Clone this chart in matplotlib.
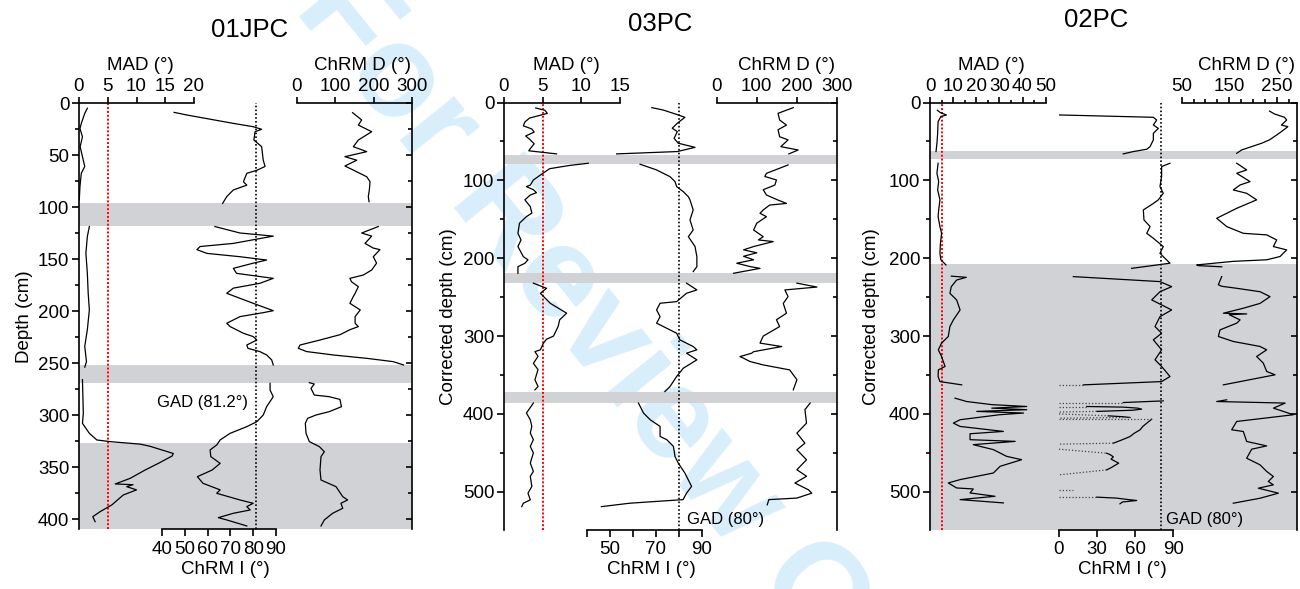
import numpy as np
import matplotlib
matplotlib.use('Agg')
import matplotlib.pyplot as plt
from matplotlib.ticker import FixedLocator, MultipleLocator

plt.rcParams['font.family'] = ['Liberation Sans', 'DejaVu Sans']
plt.rcParams['font.size'] = 13.5
nan = np.nan

# ---------------- data ----------------
titles = ['01JPC', '03PC', '02PC']
ylabels = ['Depth (cm)', 'Corrected depth (cm)', 'Corrected depth (cm)']
gad_values = [81.2, 80, 80]
gad_labels = ['GAD (81.2°)', 'GAD (80°)', 'GAD (80°)']
mad_cutoff = 5

# ---- 01JPC ----
mad01_depth = [5, 10, 19.6, 24.5, 32.5, 42, 51.6, 61, 67.6, 80, 93, nan,
               118.8, 128.4, 144.5, 163.6, 183, 199, 218, 234, 248.8, 254, nan,
               266, 298.4, 308, 317.6, 324, 325.6, 328, 330, 337, 339.4, 346.5, 352.9,
               360.9, 366.3, 367, 368.9, 372, 376.9, 386.5, 393, 397.8, 402.6]
mad01 = [1.45, 1.0, 0.4, 0.17, 0.6, 0.2, 0.6, 1.0, 0.4, 0.17, 0.05, nan,
         1.8, 1.45, 1.2, 1.45, 1.6, 1.8, 1.45, 1.0, 1.3, 1.0, nan,
         0.6, 0.75, 0.6, 1.8, 3.1, 5.4, 10.6, 12.3, 16.4, 16.2, 13.8, 11.5,
         8.9, 6.3, 9.4, 8.3, 10.0, 7.7, 5.7, 3.65, 2.4, 2.8]

inc01_depth = [9, 11.5, 19.6, 22.8, 25.3, 27.6, 35.6, 42, 55, 61, 64.7, 67.6, 75.7, 79, 83.6, 90, 96.5, nan,
               118.8, 125, 128, 135, 138, 141, 144.6, 147.8, 151, 154, 159, 163.8, 168.6, 173.4, 178, 183,
               192.6, 199.7, 201.6, 205.4, 211.8, 215, 221.4, 224.6, 227.9, 232.7, 235.9, 239, 242.3, 247, 251.9, nan,
               269.6, 276, 282.4, 292, 300, 306.4, 311.2, 317.6, 324, 328.8, 333.6, 340, 346.5, 352.9, 359.3,
               365.7, 372, 375.3, 381.7, 384.9, 388.1, 391.3, 394.5, 398.7, 400.9, 406.7]
inc01 = [45.3, 50.8, 71.3, 80, 83.7, 80.8, 80.3, 83.7, 84.4, 85.2, 81.6, 77.2, 75.7, 77.2, 71.3, 68.4, 66.6, nan,
         63.2, 74.2, 88.8, 71.3, 56.7, 55.3, 59.7, 74.2, 85.9, 80, 71.3, 72.7, 88.8, 82.9, 71.3, 68.4,
         80, 88.8, 84.4, 74.2, 68.4, 69.9, 75.7, 80, 81.6, 77.2, 77.7, 82.9, 85.9, 88.1, 88.8, nan,
         87.4, 87.4, 88.8, 85.9, 84.4, 81.6, 77.2, 69.9, 65.5, 64, 61.1, 61.4, 65.5, 62, 55.5,
         58, 65.5, 64, 74.2, 80, 77.2, 78.7, 71.3, 64.7, 68.4, 77.2]

dec01_depth = [9.3, 16.3, 21.2, 27.6, 35.6, 42, 46.8, 51.6, 55, 60.6, 64.5, 70.9, 75.7, 83.7, 90, 94.9, nan,
               118.8, 125, 128, 135, 139.5, 141, 147.8, 154, 160.6, 165.4, 168.6, 171.8, 176.6, 183, 186,
               192.6, 199, 205.4, 211.8, 215, 218, 222.8, 227.9, 232.7, 235.9, 239, 242.3, 245.5, 248.7, 251.9, nan,
               268.9, 270.2, 274.4, 280.8, 282.4, 285, 292, 296.8, 300, 303.2, 308, 317.6, 325.6, 330.4,
               335.3, 340, 352.9, 362.5, 368.9, 378.5, 381.7, 384.9, 389.7, 394.5, 400.9, 406.7]
dec01 = [145, 168.7, 160, 194.8, 160, 147, 181.8, 125, 155.8, 125, 147, 181.8, 190.5, 188.7, 186, 188, nan,
         212, 168.7, 194.8, 177.4, 199, 216.5, 199, 207.6, 194.8, 173, 138, 142, 160, 151.6, 147,
         138, 165, 151.6, 151.6, 160, 138, 112, 60, 8, 3.5, 25, 95, 181.8, 251, 278, nan,
         32.2, 45, 36.5, 45, 84, 112, 116, 84, 49.6, 27.8, 21.7, 23.5, 32.2, 58.3,
         71.3, 62.6, 60, 62.6, 101.8, 119.3, 132, 114.6, 119.3, 93, 71.3, 62.6]
bands01 = [(96.5, 118), (252, 269), (327, 420)]

# ---- 03PC ----
mad03_depth = [7, 10, 14, 20, 25, 30, 34, 38, 43, 48, 53, 58, 62, 66, nan,
               78, 80.8, 85, 93.2, 99.5, 106, 108, 112, 115.8, 118.8, 125, 133.7, 142, 146.6, 155, 168,
               176.5, 185, 198, 202, 206.5, 210.8, 219.3, nan,
               232, 238.6, 245, 249, 258, 270.6, 279, 287.7, 300, 304, 309, 317.6, 320, 326, 335, 343,
               356, 364.8, 369, nan,
               386, 398.8, 407.4, 416, 424.5, 433, 441.6, 450, 463, 473.8, 480, 493, 501.7, 510.3, 514.6, 519]
mad03 = [4.1, 5.3, 5.6, 3.3, 2.7, 2.5, 3.6, 3.9, 2.8, 3.4, 3.9, 3.5, 3.2, 6.8, nan,
         10.9, 8.5, 5.9, 4.7, 3.8, 3.4, 2.9, 3.8, 4.2, 3.4, 2.7, 3.4, 3.6, 2.9, 2.0, 1.8,
         2.2, 1.8, 2.5, 3.1, 2.7, 1.8, 1.8, nan,
         3.8, 5.5, 4.7, 5.1, 6.0, 8.1, 7.2, 7.0, 6.4, 5.5, 5.1, 4.7, 4.0, 4.4, 3.8, 4.4,
         4.0, 4.4, 4.0, nan,
         3.8, 2.9, 3.4, 3.6, 3.4, 3.8, 3.4, 3.8, 3.4, 3.8, 3.4, 3.6, 3.1, 3.4, 2.5, 2.3]

inc03_depth = [6.6, 9.7, 16, 19, 26.6, 33, 37.4, 46, 52.3, 57.6, 63, 66, nan,
               79.3, 86.6, 95.2, 101.6, 108, 114.5, 121, 125, 138, 150.8, 163.7, 172.3, 185, 198, 210.8, 217.2, nan,
               232, 240.7, 245, 255.7, 257.8, 266.4, 275, 283.4, 296.3, 304.8, 313.4, 317.6, 321.9, 330.5,
               341.2, 351.9, 364.8, 371.2, nan,
               386, 398.8, 407.4, 416, 428.8, 433, 441.6, 454.7, 463, 476, 493, 501.7, 510, 514.6, 519]
inc03 = [68.3, 73.3, 79.8, 82.7, 79.4, 77.2, 79.4, 78, 79.8, 87.1, 79.4, 53, nan,
         63.2, 70.4, 76.2, 78.4, 79.1, 82, 84.2, 84.9, 86.3, 84.9, 86.3, 84.2, 87.1, 87.9, 87.9, 86.3, nan,
         83.4, 87.9, 83.4, 79.1, 71.9, 70.4, 71.9, 70.4, 79.1, 80.5, 86.3, 87.9, 83.4, 87.9,
         82, 79.1, 76.2, 74, nan,
         62.5, 64.7, 67.6, 71.9, 71.9, 74.8, 77.7, 78.4, 79.8, 82.7, 85.6, 83.4, 81.9, 58.7, 46.4]

dec03_depth = [6.6, 13.9, 22.5, 29, 35, 44, 48, 56.7, 61, 66, nan,
               80.2, 91, 95, 99.5, 106, 112, 118.8, 125.3, 129.6, 131.7, 138, 142.3, 146.6, 155, 163.7,
               172.3, 176.5, 178.6, 185, 189.2, 193, 197.5, 202, 206.4, 210.8, 213, 219.3, nan,
               232, 237, 240.7, 249.3, 258, 270.6, 279, 287.7, 300, 309, 313.4, 320, 322, 326.3, 328.4,
               332.6, 337, 343.4, 356, 369, nan,
               386, 394.5, 411.8, 424.6, 437.5, 446, 458.8, 471.6, 480, 488.7, 497.4, 501.7, 508, 510, 516.7]
dec03 = [191, 153, 157, 174, 153, 157, 178, 160, 203, 180, nan,
         178, 124, 120, 149, 145, 116, 124, 153, 174, 132, 116, 108, 124, 100, 92,
         116, 104, 141, 92, 67, 100, 67, 92, 50, 84, 108, 42, nan,
         200, 250, 170, 178, 166, 174, 149, 157, 116, 108, 162, 92, 87, 58, 67,
         83, 116, 182, 200, 191, nan,
         233, 220, 224, 200, 220, 200, 224, 200, 224, 195, 229, 237, 200, 130, 126]
bands03 = [(67, 79), (219, 232), (372, 386)]

# ---- 02PC ----  (inclination 0 = off-scale negative, drawn dotted)
mad02_depth = [10, 13, 16, 18, 24.6, 39.6, 52.4, 63, nan,
               78, 90.9, 101.6, 112.3, 125, 138, 146.6, 159.5, 168, 180.9, 193.7, 202, 208.6, nan,
               223, 224.5, 228, 236.5, 245, 253.5, 266.4, 279.2, 287.7, 300.5, 309, 317.6, 326.2, 339,
               343.4, 351.9, 358.4, 362.6, nan,
               379.7, 384, 388, 390.4, 392.5, 394.5, 396.7, 398.8, 401, 407.4, 411.7, 416, 422.4, 425.4,
               433, 435.2, 439.4, 445.8, 454.4, 458.7, 467.2, 475.8, 484.3, 488.6, 495, 496.3, 501.4,
               505.7, 510, 514.2]
mad02 = [3.2, 4.5, 7.1, 4.7, 3.5, 3.3, 3.0, 2.6, nan,
         3.5, 3.0, 3.75, 3.3, 4.3, 3.75, 3.5, 4.3, 5.0, 4.5, 4.3, 4.7, 6.9, nan,
         9.2, 15.7, 11.5, 9.2, 8.6, 11.5, 13.0, 10.1, 8.6, 7.9, 5.0, 3.6, 5.0, 6.5,
         3.6, 3.5, 4.3, 13.7, nan,
         10.8, 15.8, 26.7, 41.8, 26.7, 41.8, 20.2, 40.4, 30, 13.0, 10.1, 13.0, 31.7, 17.3,
         17.3, 36.8, 18.7, 27.4, 33.1, 39.6, 30.3, 27.4, 13.0, 7.9, 11.5, 18.7, 17.3,
         28.1, 13.0, 31.7]

inc02_depth = [16, 19, 22.5, 28.9, 33.2, 39.6, 48, 56.7, 60, 63, 66, nan,
               78, 82.3, 95.2, 108, 116.6, 125, 129.6, 138, 150.8, 159.3, 168, 174.4, 185, 193.7, 206.4, 213, nan,
               223.6, 230, 236.5, 243, 253.5, 257.8, 266.4, 275, 287.7, 296.3, 304.8, 317.6, 330.4, 339,
               351.9, 358.4, 362.6, 362.6, nan,
               385.3, 385.3, 383.2, nan,
               390.4, 390.4, 391.2, 392.5, 393.8, 395.2, 396.7, 397.5, nan,
               399.9, 402.4, 403.5, 404.5, 405.4, nan,
               406.7, 406.7, 411.8, 416, 420.4, 425, 429, 433, 437.5, 438.8, nan,
               445.2, 450.4, 452, 455, 458, 461, 463.2, 466, 469, 471.8, 478.2, nan,
               497.4, 497.4, nan,
               506.8, 506.8, 508, 510, 511.1, 513, 515.4]
inc02 = [0.5, 74.3, 76.9, 74.3, 78.2, 74.3, 74.3, 71.7, 69.1, 58.5, 50.6, nan,
         87.4, 80.8, 80.8, 79.5, 82.1, 78.2, 74.3, 66.4, 66.9, 71.7, 69.1, 74.3, 82.1, 79.5, 87.4, 57.2, nan,
         11.3, 79.5, 88.7, 79.5, 73, 78.2, 88.7, 79.5, 75.6, 80.8, 74.3, 80.8, 75.6, 80.8,
         87.4, 80.8, 19.2, 0, nan,
         0, 50.6, 82.1, nan,
         0, 21.8, 50.6, 62, 65.1, 58, 29.7, 0, nan,
         0, 38.8, 50, 55.9, 0, nan,
         0, 73, 69.1, 66, 63.8, 59, 55.9, 50, 42.8, 0, nan,
         0, 37.5, 40, 42.8, 41, 44.5, 47, 44, 41, 37.5, 0, nan,
         0, 11.3, nan,
         0, 29.7, 45, 55, 61.2, 50, 48]

dec02_depth = [11, 14.7, 19, 22.5, 29, 31, 37.4, 41.7, 48, 52.4, 56.7, 61, 65.2, nan,
               78, 86.6, 90.9, 101.6, 105.9, 112.3, 116.6, 125, 135.9, 142.3, 148.7, 159.3, 168, 170,
               176.5, 185, 189.3, 197.8, 202, 204, 208.6, 209.5, 211, nan,
               223.6, 234, 236, 238.6, 243, 249.3, 258, 264.2, 270.6, 271.5, 272.5, 279.2, 283.4, 292,
               300.5, 306.9, 313.3, 317.6, 326.2, 334.7, 345.4, 349.7, 362.6, nan,
               381.8, 384, 386, 392.5, 401, 409.6, 420.3, 422.5, 435.3, 441, 445.2, 456.8, 465.3,
               473.8, 480.3, 486.7, 491, 495.3, 501.7, 508.2, 514.6]
dec02 = [234.8, 245.3, 266.4, 271, 260, 273.5, 260, 250, 234.8, 218, 197, 176, 165.8, nan,
         165.8, 186.8, 165.8, 193.9, 172.9, 158.6, 186.8, 207.8, 165.8, 144.7, 123.7, 144.7, 179.7, 228.9,
         250, 243, 271, 257, 228.9, 158.6, 81.6, 85, 134.2, nan,
         134.2, 127.2, 134, 165.8, 215, 235.9, 214.9, 179.7, 137.7, 186.8, 150, 172.9, 165.8, 130.7,
         127.2, 158.6, 214.9, 228.9, 207.8, 221.8, 228.9, 246.5, 137.7, nan,
         144.7, 123.7, 267.8, 243.2, 285, 165.8, 155.2, 179.7, 186.8, 228.9, 197.4, 186.8, 214.9,
         228.9, 243, 232.3, 243, 211.3, 253.6, 214.9, 158.6]
bands02 = [(62, 72), (207, 560)]

# tick values / labels
depth_major = [50, 100, 100]
depth_minor = [25, 50, 50]
mad_ticks = [[0, 5, 10, 15, 20], [0, 5, 10, 15], [0, 10, 20, 30, 40, 50]]
mad_minor = [[], [], [5, 15, 25, 35, 45]]
dec_ticks = [[0, 100, 200, 300], [0, 100, 200, 300], [50, 150, 250]]
dec_minor = [[], [], [75, 100, 125, 175, 200, 225, 275]]
inc_ticks = [[40, 50, 60, 70, 80, 90], [50, 70, 90], [0, 30, 60, 90]]
inc_minor = [[], [40, 60, 80], []]

# ---------------- layout (pixel calibration of each panel) ----------------
W, H = 1300, 589
layout = [
    dict(box=(79, 412, 103, 529.4), dmax=410, ylab_x=33,
         mad=(0, 79, 20, 194), dec=(0, 297, 300, 412), inc=(40, 162, 90, 276),
         mad_lab=140, dec_lab=362, inc_lab=225, title=(250, 30), gad_txt=(77.7, 288, 'right')),
    dict(box=(504, 837, 102.5, 530), dmax=549, ylab_x=457,
         mad=(0, 504, 15, 620), dec=(0, 716.7, 300, 837), inc=(40, 586.7, 90, 701.7),
         mad_lab=566, dec_lab=787, inc_lab=651, title=(660, 24), gad_txt=(83.5, 536, 'left')),
    dict(box=(930, 1297, 102.5, 530), dmax=549, ylab_x=880,
         mad=(0, 930, 50, 1045.7), dec=(50, 1181.7, 250, 1276.7), inc=(0, 1059, 90, 1173.3),
         mad_lab=991, dec_lab=1247, inc_lab=1122, title=(1096, 20), gad_txt=(84.3, 536, 'left')),
]
band_color = '#d1d2d5'
LW_AX = 1.2

fig = plt.figure(figsize=(W / 100, H / 100), dpi=100)
fig.patch.set_facecolor('white')

fig.text(642 / W, 1 - 385 / H, 'For Review Only', rotation=-51, rotation_mode='anchor',
         ha='center', va='center', fontsize=94, fontweight='bold', color='#d8eefa', zorder=-10)


def lim(cal, x0, x1):
    va, pa, vb, pb = cal
    s = (vb - va) / (pb - pa)
    return (va - (pa - x0) * s, va + (x1 - pa) * s)


def add_ax(box):
    x0, x1, y0, y1 = box
    ax = fig.add_axes([x0 / W, 1 - y1 / H, (x1 - x0) / W, (y1 - y0) / H])
    ax.set_facecolor('none')
    for s in ax.spines.values():
        s.set_visible(False)
        s.set_linewidth(LW_AX)
    ax.tick_params(which='both', left=False, right=False, top=False, bottom=False,
                   labelleft=False, labelright=False, labeltop=False, labelbottom=False,
                   width=LW_AX, labelsize=13.5)
    return ax


def plot_series(ax, values, depth):
    v = np.asarray(values, float)
    d = np.asarray(depth, float)
    solid = np.where(v <= 0, np.nan, v)
    ax.plot(solid, d, color='black', lw=0.9, zorder=3)
    for k in range(len(v) - 1):
        a, b = v[k], v[k + 1]
        if np.isnan(a) or np.isnan(b):
            continue
        if a <= 0 or b <= 0:
            ax.plot([a, b], [d[k], d[k + 1]], color='#444444', lw=0.9,
                    ls=(0, (1, 1.6)), zorder=3)


series = [
    (mad01, mad01_depth, inc01, inc01_depth, dec01, dec01_depth, bands01),
    (mad03, mad03_depth, inc03, inc03_depth, dec03, dec03_depth, bands03),
    (mad02, mad02_depth, inc02, inc02_depth, dec02, dec02_depth, bands02),
]

for p, cfg in enumerate(layout):
    mad_v, mad_d, inc_v, inc_d, dec_v, dec_d, bands = series[p]
    x0, x1, y0, y1 = cfg['box']
    dmax = cfg['dmax']
    hpx = y1 - y0

    # depth axis (left)
    axz = add_ax(cfg['box'])
    axz.set_xlim(0, 1)
    axz.set_ylim(dmax, 0)
    for top, bot in bands:
        axz.axhspan(top, min(bot, dmax), color=band_color, lw=0, zorder=0)
    axz.spines['left'].set_visible(True)
    axz.yaxis.set_major_locator(MultipleLocator(depth_major[p]))
    axz.yaxis.set_minor_locator(MultipleLocator(depth_minor[p]))
    axz.tick_params(axis='y', which='both', left=True, labelleft=True, direction='out')
    axz.tick_params(axis='y', which='major', length=5, pad=2)
    axz.tick_params(axis='y', which='minor', length=3)
    axz.set_ylabel(ylabels[p], fontsize=13.5)
    axz.yaxis.set_label_coords((cfg['ylab_x'] - x0) / (x1 - x0), 0.5)

    # right spine with inward ticks
    axr = add_ax(cfg['box'])
    axr.set_ylim(dmax, 0)
    axr.spines['right'].set_visible(True)
    axr.yaxis.set_ticks_position('right')
    axr.yaxis.set_major_locator(MultipleLocator(depth_major[p]))
    axr.yaxis.set_minor_locator(MultipleLocator(depth_minor[p]))
    axr.tick_params(axis='y', which='both', right=True, labelright=False, direction='in')
    axr.tick_params(axis='y', which='major', length=4.5)
    axr.tick_params(axis='y', which='minor', length=3)

    # MAD (top)
    axm = add_ax(cfg['box'])
    axm.set_xlim(*lim(cfg['mad'], x0, x1))
    axm.set_ylim(dmax, 0)
    axm.spines['top'].set_visible(True)
    axm.spines['top'].set_bounds(mad_ticks[p][0], mad_ticks[p][-1])
    axm.xaxis.set_ticks_position('top')
    axm.xaxis.set_major_locator(FixedLocator(mad_ticks[p]))
    axm.xaxis.set_minor_locator(FixedLocator(mad_minor[p]))
    axm.tick_params(axis='x', which='both', top=True, labeltop=True, direction='out', pad=1.5)
    axm.tick_params(axis='x', which='major', length=4)
    axm.tick_params(axis='x', which='minor', length=2.5)
    axm.xaxis.set_label_position('top')
    axm.set_xlabel('MAD (°)', fontsize=13.5)
    axm.xaxis.set_label_coords((cfg['mad_lab'] - x0) / (x1 - x0), (y1 - 70) / hpx)
    axm.axvline(mad_cutoff, color='red', lw=1.4, ls=(0, (1, 1)), zorder=2)
    plot_series(axm, mad_v, mad_d)

    # ChRM D (top)
    axd = add_ax(cfg['box'])
    dlo, dhi = lim(cfg['dec'], x0, x1)
    axd.set_xlim(dlo, dhi)
    axd.set_ylim(dmax, 0)
    axd.spines['top'].set_visible(True)
    axd.spines['top'].set_bounds(dec_ticks[p][0], dhi)
    axd.xaxis.set_ticks_position('top')
    axd.xaxis.set_major_locator(FixedLocator(dec_ticks[p]))
    axd.xaxis.set_minor_locator(FixedLocator(dec_minor[p]))
    axd.tick_params(axis='x', which='both', top=True, labeltop=True, direction='out', pad=1.5)
    axd.tick_params(axis='x', which='major', length=4)
    axd.tick_params(axis='x', which='minor', length=3)
    axd.xaxis.set_label_position('top')
    axd.set_xlabel('ChRM D (°)', fontsize=13.5)
    axd.xaxis.set_label_coords((cfg['dec_lab'] - x0) / (x1 - x0), (y1 - 70) / hpx)
    plot_series(axd, dec_v, dec_d)

    # ChRM I (bottom)
    axi = add_ax(cfg['box'])
    axi.set_xlim(*lim(cfg['inc'], x0, x1))
    axi.set_ylim(dmax, 0)
    axi.spines['bottom'].set_visible(True)
    allt = sorted(inc_ticks[p] + inc_minor[p])
    axi.spines['bottom'].set_bounds(allt[0], allt[-1])
    axi.xaxis.set_major_locator(FixedLocator(inc_ticks[p]))
    axi.xaxis.set_minor_locator(FixedLocator(inc_minor[p]))
    axi.tick_params(axis='x', which='both', bottom=True, labelbottom=True, direction='out',
                    length=5, pad=3)
    axi.set_xlabel('ChRM I (°)', fontsize=13.5)
    axi.xaxis.set_label_coords((cfg['inc_lab'] - x0) / (x1 - x0), (y1 - 561) / hpx)
    axi.axvline(gad_values[p], color='black', lw=1.2, ls=(0, (1, 1.3)), zorder=2)
    gx, gy, gha = cfg['gad_txt']
    axi.text(gx, gy, gad_labels[p], ha=gha, va='center', fontsize=12, zorder=4)
    plot_series(axi, inc_v, inc_d)

    tx, ty = cfg['title']
    fig.text(tx / W, 1 - ty / H, titles[p], ha='center', va='center', fontsize=18.5)

fig.savefig('out.png', dpi=100, facecolor='white')
